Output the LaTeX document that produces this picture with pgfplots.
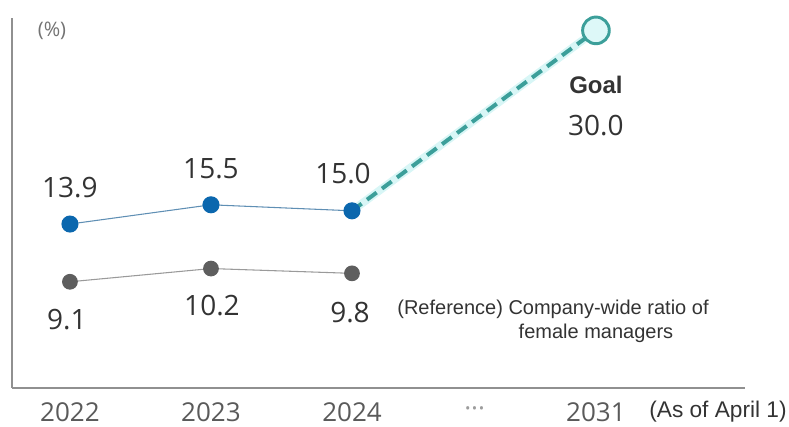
\documentclass[border=0pt]{standalone}
\usepackage{pgfplots}
\pgfplotsset{compat=1.18}
\usepackage{fontspec}
\setmainfont{Open Sans}
\newfontfamily\arial{Liberation Sans}
\definecolor{axisgray}{HTML}{909090}
\definecolor{ticktext}{HTML}{5A5A5A}
\definecolor{datatext}{HTML}{333333}
\definecolor{bluedot}{HTML}{0B67AE}
\definecolor{blueline}{HTML}{5F8FB4}
\definecolor{graydot}{HTML}{5E5E5E}
\definecolor{grayline}{HTML}{9A9A9A}
\definecolor{tealc}{HTML}{3C9F9A}
\definecolor{tealglow}{HTML}{D8F6F6}
\definecolor{goalfill}{HTML}{DDF8F8}
\begin{document}
\begin{tikzpicture}[x=0.75pt,y=0.75pt]
\path[use as bounding box] (0,0) rectangle (789,427);
\begin{axis}[
  at={(9pt,29.25pt)}, anchor=south west,
  scale only axis, width=549.75pt, height=277.5pt,
  xmin=-0.411, xmax=4.787, ymin=0.27, ymax=31.03,
  axis x line=bottom, axis y line=left,
  axis line style={-, draw=axisgray, line width=1.3pt},
  xtick={0,1,2,2.87,3.73},
  xticklabels={2022,2023,2024,{\textcolor{ticktext!60}{\textperiodcentered\textperiodcentered\textperiodcentered}},2031},
  ytick=\empty, major tick length=0pt,
  xticklabel style={anchor=center, yshift=-18pt, text=ticktext, font=\fontsize{19.5}{23}\selectfont},
  clip=false,
]
% glow + dashed projection
\addplot[tealglow, line width=6pt, forget plot] coordinates {(2,15.0) (3.73,30)};
\addplot[tealc, line width=3pt, dash pattern=on 9pt off 5pt, forget plot] coordinates {(2,15.0) (3.73,30)};
% gray series
\addplot[grayline, line width=0.8pt, mark=*, mark size=5.5pt, mark options={draw=graydot, fill=graydot, solid}] coordinates {(0,9.1) (1,10.2) (2,9.8)};
% blue series
\addplot[blueline, line width=0.8pt, mark=*, mark size=6pt, mark options={draw=bluedot, fill=bluedot, solid}] coordinates {(0,13.9) (1,15.5) (2,15.0)};
% goal
\addplot[only marks, mark=*, mark size=10pt, mark options={draw=tealc, fill=goalfill, line width=2.2pt}] coordinates {(3.73,30)};
% labels
\begin{scope}[every node/.style={text=datatext, font=\fontsize{21}{25}\selectfont, inner sep=0pt}]
\node[yshift=27pt] at (axis cs:0,13.9) {13.9};
\node[yshift=27pt] at (axis cs:1,15.5) {15.5};
\node[yshift=27.7pt, xshift=-6.75pt] at (axis cs:2,15.0) {15.0};
\node[yshift=-28.6pt, xshift=-2.25pt] at (axis cs:0,9.1) {9.1};
\node[yshift=-28pt, xshift=0.75pt] at (axis cs:1,10.2) {10.2};
\node[yshift=-29.7pt, xshift=-1.5pt] at (axis cs:2,9.8) {9.8};
\node[yshift=-71pt] at (axis cs:3.73,30) {30.0};
\end{scope}
\node[text=datatext, inner sep=0pt, font=\arial\bfseries\fontsize{18}{22}\selectfont, yshift=-41pt] at (axis cs:3.73,30) {Goal};
\end{axis}
\node[text=ticktext!85, inner sep=0pt, font=\fontsize{15}{18}\selectfont] at (52,396) {(\%)};
\node[text=datatext, inner sep=0pt, font=\arial\fontsize{15}{18}\selectfont] at (553,118) {(Reference) Company-wide ratio of};
\node[text=datatext, inner sep=0pt, font=\arial\fontsize{15}{18}\selectfont] at (596,94) {female managers};
\node[text=datatext, inner sep=0pt, font=\arial\fontsize{17}{20}\selectfont] at (718,15) {(As of April 1)};
\end{tikzpicture}
\end{document}
